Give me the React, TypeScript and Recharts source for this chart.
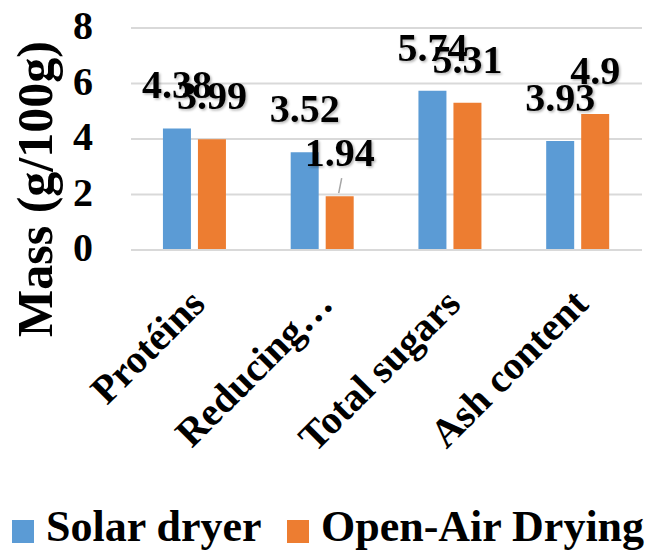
import React from 'react';
import { BarChart, Bar, XAxis, YAxis, CartesianGrid, LabelList, Legend, Label } from 'recharts';

// Composition of the dried product, g per 100 g
const categories = ['Protéins', 'Reducing…', 'Total sugars', 'Ash content'];
const solarDryer = [4.38, 3.52, 5.74, 3.93];
const openAirDrying = [3.99, 1.94, 5.31, 4.9];
const yTicks = [0, 2, 4, 6, 8];
const seriesNames = ['Solar dryer', 'Open-Air Drying'];
const seriesColors = ['#5b9bd5', '#ed7d31'];
// Labels that were pulled away from their bar and keep a leader line
const openAirLeaders = ['Reducing…'];

const data = categories.map((name, i) => ({
  name,
  solar: solarDryer[i],
  openAir: openAirDrying[i],
}));

const textStyle: React.CSSProperties = {
  fontFamily: "'Liberation Serif', 'DejaVu Serif', serif",
  fontWeight: 700,
};

const ValueTick = (props: any) => {
  const { x, y, payload } = props;
  return (
    <text x={x} y={y} dy={11} textAnchor="end" style={textStyle} fontSize={40} fill="#000">
      {payload.value}
    </text>
  );
};

const CategoryTick = (props: any) => {
  const { x, y, payload } = props;
  const ax = x - 8;
  return (
    <text
      x={ax}
      y={y}
      dy="0.71em"
      textAnchor="end"
      transform={`rotate(-45, ${ax}, ${y})`}
      style={textStyle}
      fontSize={40}
      fill="#000"
    >
      {payload.value}
    </text>
  );
};

const AxisTitle = () => (
  <text
    x={52}
    y={189}
    transform="rotate(-90, 52, 189)"
    textAnchor="middle"
    style={textStyle}
    fontSize={50}
    fill="#000"
  >
    Mass (g/100g)
  </text>
);

const makeValueLabel = (leaders: string[]) => (props: any) => {
  const { x, y, width, value, index } = props;
  const cx = x + width / 2;
  const withLeader = leaders.includes(categories[index]);
  return (
    <g>
      {withLeader && (
        <line x1={cx + 2} y1={y - 18} x2={cx - 1} y2={y - 3} stroke="#a6a6a6" strokeWidth={1.5} />
      )}
      <text
        x={cx}
        y={y - 30}
        textAnchor="middle"
        style={textStyle}
        fontSize={40}
        fill="#000"
        filter="url(#labelShadow)"
      >
        {value}
      </text>
    </g>
  );
};

const LegendContent = () => {
  const items = [
    { rectX: 12, textX: 46 },
    { rectX: 287, textX: 321 },
  ];
  return (
    <svg width={646} height={60} style={{ display: 'block' }}>
      {items.map((it, i) => (
        <g key={seriesNames[i]}>
          <rect x={it.rectX} y={26} width={22} height={23} fill={seriesColors[i]} />
          <text x={it.textX} y={47} style={textStyle} fontSize={44} fill="#000">
            {seriesNames[i]}
          </text>
        </g>
      ))}
    </svg>
  );
};

export default function App() {
  return (
    <div style={{ position: 'absolute', left: 0, top: 0, background: '#fff' }}>
      <BarChart
        width={646}
        height={554}
        data={data}
        margin={{ top: 28, right: 4, bottom: 0, left: 0 }}
        barCategoryGap="25%"
        barGap={7}
      >
        <defs>
          <filter id="labelShadow" x="-20%" y="-20%" width="140%" height="140%">
            <feDropShadow dx={1.5} dy={1.5} stdDeviation={1} floodColor="#000" floodOpacity={0.3} />
          </filter>
        </defs>
        <CartesianGrid vertical={false} stroke="#d9d9d9" strokeWidth={2} />
        <XAxis
          dataKey="name"
          height={244}
          interval={0}
          axisLine={{ stroke: '#d9d9d9', strokeWidth: 2 }}
          tickLine={false}
          tickSize={6}
          tickMargin={30}
          tick={<CategoryTick />}
        />
        <YAxis
          width={131}
          domain={[0, 8]}
          ticks={yTicks}
          axisLine={false}
          tickLine={false}
          tickSize={6}
          tickMargin={32}
          tick={<ValueTick />}
        >
          <Label content={<AxisTitle />} />
        </YAxis>
        <Legend verticalAlign="bottom" content={<LegendContent />} wrapperStyle={{ left: 0, bottom: 0, width: 646 }} />
        <Bar dataKey="solar" name={seriesNames[0]} fill={seriesColors[0]} isAnimationActive={false}>
          <LabelList dataKey="solar" content={makeValueLabel([])} />
        </Bar>
        <Bar dataKey="openAir" name={seriesNames[1]} fill={seriesColors[1]} isAnimationActive={false}>
          <LabelList dataKey="openAir" content={makeValueLabel(openAirLeaders)} />
        </Bar>
      </BarChart>
    </div>
  );
}
